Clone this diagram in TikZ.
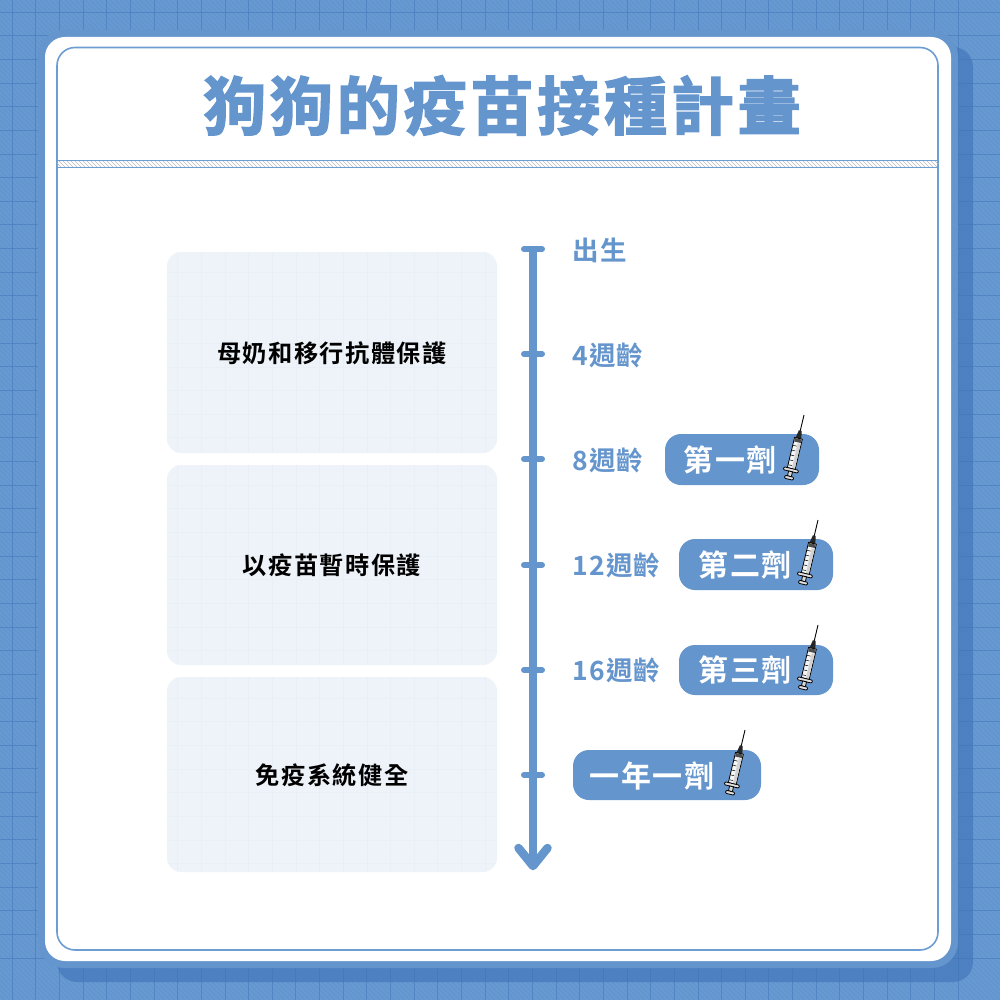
\documentclass[tikz,border=0pt]{standalone}
\usepackage{fontspec}
\newfontfamily\cjktitle[LetterSpace=6,FakeBold=2.6]{Noto Sans CJK TC Bold}
\newfontfamily\cjklabel[LetterSpace=5]{Noto Sans CJK TC Bold}
\newfontfamily\cjkpanel[LetterSpace=6]{Noto Sans CJK TC Bold}
\definecolor{bgblue}{HTML}{6899D1}
\definecolor{accent}{HTML}{6595CD}
\definecolor{shadowblue}{HTML}{4A7DBF}
\definecolor{gridblue}{HTML}{3F74B8}
\definecolor{panelfill}{HTML}{EEF3F9}
\definecolor{panelgrid}{HTML}{E9EFF7}
\definecolor{framecol}{HTML}{6C9DD3}
\tikzset{
  panel/.style={fill=panelfill,rounded corners=14pt,draw=none},
  panellabel/.style={font=\cjkpanel\fontsize{24.2}{24.2}\selectfont,text=black,inner sep=0pt},
  agelabel/.style={font=\cjklabel\fontsize{26.5}{26.5}\selectfont,text=accent,anchor=west,inner sep=0pt},
  pill/.style={fill=accent,rounded corners=16pt,draw=none},
  pilllabel/.style={font=\cjklabel\fontsize{30}{30}\selectfont,text=white,inner sep=0pt},
  axisline/.style={draw=accent,line width=8pt},
  tickline/.style={draw=accent,line width=6pt,line cap=round},
  headline/.style={draw=accent,line width=8.5pt,line cap=round,line join=round},
  gridline/.style={draw=gridblue,line width=.7pt,opacity=.5},
  hatchline/.style={draw=gridblue,line width=1.2pt,opacity=.16},
  pics/syringe/.style={code={
    \draw[black,line width=.9pt] (0,0) -- (0,18);
    \fill[black!85] (-1.4,16) -- (1.4,16) -- (3,24) -- (-3,24) -- cycle;
    \draw[black,line width=.8pt,fill=white!92!gray] (-4,24) rectangle (4,55);
    \fill[black!70] (-3.5,24.5) rectangle (3.5,28);
    \fill[gray!35] (0.5,29) rectangle (3.4,54);
    \foreach \t in {32,37,42,47,52}{\draw[black,line width=.5pt] (-3.5,\t) -- (0,\t);}
    \draw[black,line width=.8pt,fill=gray!25,rounded corners=1pt] (-7.5,55) rectangle (7.5,58);
    \draw[black,line width=.8pt,fill=gray!30] (-2,58) rectangle (2,63);
    \draw[black,line width=.8pt,fill=gray!25,rounded corners=1pt] (-4.5,63) rectangle (4.5,66);
  }}
}
\begin{document}
\begin{tikzpicture}[x=1pt,y=-1pt]
\useasboundingbox (0,0) rectangle (1000,1000);
\fill[bgblue] (0,0) rectangle (1000,1000);
\begin{scope}
  \clip (0,0) rectangle (1000,1000);
  \foreach \k in {-1000,-995,...,1000}{\draw[hatchline] (\k,0) -- ({\k+1000},1000);}
\end{scope}
\fill[shadowblue,opacity=.85,rounded corners=20pt] (57,47) rectangle (973,982);
\foreach \k in {-1,0,...,40}{
  \draw[gridline] ({12+23.65*\k},0) -- ({12+23.65*\k},1000);
  \draw[gridline] (0,{12+23.65*\k}) -- (1000,{12+23.65*\k});
}
\fill[accent,rounded corners=26pt] (38,30) rectangle (958,968);
\fill[white,rounded corners=20pt] (45,37) rectangle (951,961);
\draw[framecol,line width=1.6pt,rounded corners=18pt] (57,47.5) rectangle (938,950);
\begin{scope}
  \clip (57,161) rectangle (938,167);
  \foreach \k in {50,54,...,940}{\draw[gray!55,line width=.6pt] (\k,160) -- ({\k+8},168);}
\end{scope}
\draw[framecol,line width=1.6pt] (57,160.5) -- (938,160.5);
\draw[framecol,line width=1.6pt] (57,167.5) -- (938,167.5);

\node[font=\cjktitle\fontsize{63}{63}\selectfont,text=accent,inner sep=0pt] (title) at (502,105.5) {狗狗的疫苗接種計畫};

\fill[panel] (167,252) rectangle (497,453);
\fill[panel] (167,465) rectangle (497,665);
\fill[panel] (167,677) rectangle (497,872);
\begin{scope}
  \clip[rounded corners=14pt] (167,252) rectangle (497,453);
  \foreach \k in {6,7,...,20}{\draw[panelgrid,line width=.5pt] ({12+23.65*\k},252) -- ({12+23.65*\k},453);}
  \foreach \k in {10,11,...,19}{\draw[panelgrid,line width=.5pt] (167,{12+23.65*\k}) -- (497,{12+23.65*\k});}
\end{scope}
\begin{scope}
  \clip[rounded corners=14pt] (167,465) rectangle (497,665);
  \foreach \k in {6,7,...,20}{\draw[panelgrid,line width=.5pt] ({12+23.65*\k},465) -- ({12+23.65*\k},665);}
  \foreach \k in {19,20,...,28}{\draw[panelgrid,line width=.5pt] (167,{12+23.65*\k}) -- (497,{12+23.65*\k});}
\end{scope}
\begin{scope}
  \clip[rounded corners=14pt] (167,677) rectangle (497,872);
  \foreach \k in {6,7,...,20}{\draw[panelgrid,line width=.5pt] ({12+23.65*\k},677) -- ({12+23.65*\k},872);}
  \foreach \k in {28,29,...,36}{\draw[panelgrid,line width=.5pt] (167,{12+23.65*\k}) -- (497,{12+23.65*\k});}
\end{scope}
\node[panellabel] (p1) at (332,353) {母奶和移行抗體保護};
\node[panellabel] (p2) at (332,565) {以疫苗暫時保護};
\node[panellabel] (p3) at (332,775) {免疫系統健全};

\coordinate (top) at (533,249);
\coordinate (end) at (533,866);
\coordinate (t1) at (533,354);
\coordinate (t2) at (533,459);
\coordinate (t3) at (533,565);
\coordinate (t4) at (533,670);
\coordinate (t5) at (533,775);
\draw[axisline] (top) -- (end);
\foreach \c in {top,t1,t2,t3,t4,t5}{\draw[tickline] ([xshift=-9pt]\c) -- ([xshift=9pt]\c);}
\draw[headline] (518.5,848) -- (end) -- (547.5,848);

\node[agelabel] (a0) at (572,250) {出生};
\node[agelabel] (a1) at (572,355) {4週齡};
\node[agelabel] (a2) at (572,460) {8週齡};
\node[agelabel] (a3) at (572,565) {12週齡};
\node[agelabel] (a4) at (572,670) {16週齡};

\fill[pill] (665,434) rectangle (819,485);
\fill[pill] (679,539) rectangle (833,590);
\fill[pill] (679,645) rectangle (833,695);
\fill[pill] (573,750) rectangle (761,800);
\node[pilllabel] (d1) at (730,460) {第一劑};
\node[pilllabel] (d2) at (745,565) {第二劑};
\node[pilllabel] (d3) at (745,670) {第三劑};
\node[pilllabel] (d4) at (652,776) {一年一劑};
\pic[rotate=-13.4] at (804,415) {syringe};
\pic[rotate=-13.4] at (818,520) {syringe};
\pic[rotate=-13.4] at (818,625) {syringe};
\pic[rotate=-13.4] at (745,730) {syringe};
\end{tikzpicture}
\end{document}
